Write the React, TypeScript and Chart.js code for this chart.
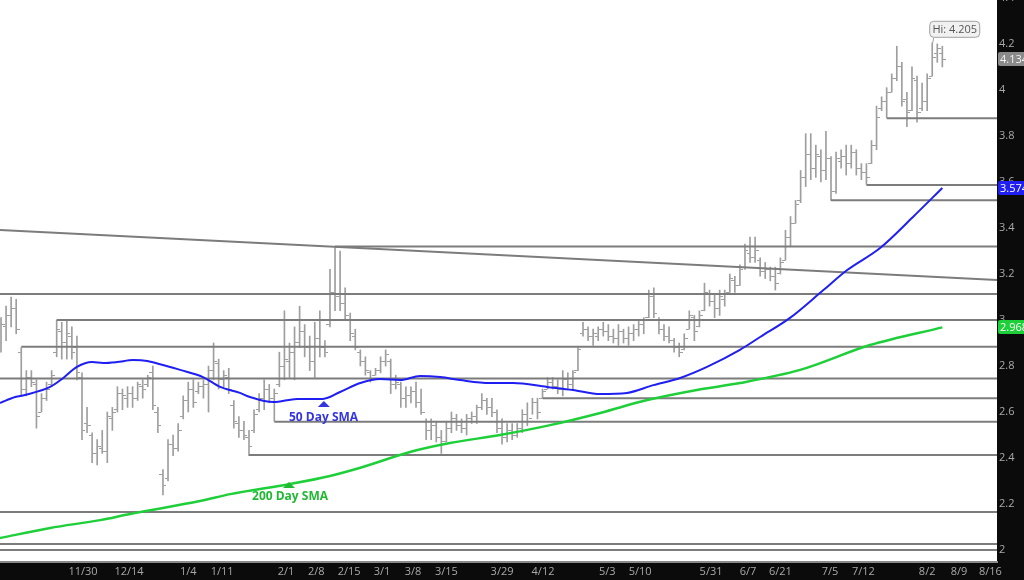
import React, { useEffect, useRef } from "react";
import { Chart, registerables } from "chart.js";
Chart.register(...registerables);

// ---------- data ----------
const highs = [
  3.01, 3.06, 3.1, 3.09, 2.88, 2.78, 2.78, 2.74, 2.68, 2.73,
  2.78, 3.0, 2.99, 3.0, 2.97, 2.93, 2.77, 2.62, 2.51, 2.48,
  2.52, 2.6, 2.62, 2.71, 2.7, 2.71, 2.71, 2.73, 2.74, 2.76,
  2.8, 2.62, 2.35, 2.48, 2.5, 2.55, 2.67, 2.73, 2.74, 2.73,
  2.74, 2.8, 2.9, 2.83, 2.78, 2.79, 2.65, 2.58, 2.56, 2.52,
  2.61, 2.68, 2.74, 2.72, 2.7, 2.86, 3.04, 2.9, 2.97, 3.06,
  2.98, 2.93, 2.99, 3.04, 2.91, 3.22, 3.32, 3.3, 3.14, 3.03,
  2.96, 2.87, 2.84, 2.78, 2.79, 2.84, 2.87, 2.83, 2.76, 2.73,
  2.71, 2.71, 2.73, 2.7, 2.57, 2.57, 2.56, 2.52, 2.56, 2.6,
  2.59, 2.57, 2.59, 2.6, 2.63, 2.68, 2.66, 2.66, 2.61, 2.57,
  2.55, 2.55, 2.55, 2.61, 2.64, 2.66, 2.66, 2.7, 2.75, 2.75,
  2.74, 2.78, 2.77, 2.78, 2.88, 2.99, 2.97, 2.96, 2.97, 2.99,
  2.98, 2.96, 2.98, 2.96, 2.97, 2.98, 3.0, 3.01, 3.13, 3.14,
  3.01, 2.98, 2.97, 2.92, 2.9, 2.94, 3.04, 3.02, 3.04, 3.16,
  3.13, 3.11, 3.13, 3.13, 3.2, 3.19, 3.24, 3.33, 3.36, 3.36,
  3.27, 3.25, 3.23, 3.23, 3.27, 3.39, 3.45, 3.52, 3.65, 3.81,
  3.81, 3.76, 3.74, 3.82, 3.71, 3.73, 3.74, 3.76, 3.76, 3.74,
  3.68, 3.68, 3.78, 3.93, 3.97, 4.01, 4.07, 4.19, 4.12, 3.99,
  4.1, 4.06, 4.03, 4.07, 4.205, 4.2, 4.19,
];
const lows = [
  2.86, 2.91, 2.97, 2.94, 2.67, 2.67, 2.71, 2.53, 2.6, 2.65,
  2.71, 2.84, 2.83, 2.83, 2.83, 2.74, 2.48, 2.51, 2.38, 2.37,
  2.42, 2.38, 2.52, 2.6, 2.61, 2.62, 2.62, 2.65, 2.66, 2.71,
  2.61, 2.51, 2.24, 2.3, 2.41, 2.43, 2.57, 2.6, 2.62, 2.68,
  2.66, 2.6, 2.74, 2.7, 2.71, 2.68, 2.53, 2.49, 2.48, 2.41,
  2.51, 2.6, 2.61, 2.64, 2.56, 2.71, 2.74, 2.75, 2.74, 2.88,
  2.84, 2.78, 2.75, 2.84, 2.84, 2.97, 3.04, 3.04, 3.0, 2.91,
  2.87, 2.8, 2.76, 2.73, 2.76, 2.77, 2.8, 2.68, 2.7, 2.62,
  2.62, 2.64, 2.62, 2.59, 2.48, 2.48, 2.47, 2.42, 2.47, 2.51,
  2.52, 2.51, 2.5, 2.55, 2.55, 2.61, 2.59, 2.58, 2.51, 2.46,
  2.47, 2.48, 2.49, 2.51, 2.54, 2.59, 2.57, 2.66, 2.7, 2.7,
  2.68, 2.67, 2.7, 2.7, 2.78, 2.93, 2.91, 2.89, 2.91, 2.93,
  2.91, 2.9, 2.89, 2.9, 2.89, 2.91, 2.93, 2.94, 3.01, 3.01,
  2.94, 2.91, 2.9, 2.86, 2.84, 2.87, 2.96, 2.91, 2.97, 3.04,
  3.06, 3.01, 3.02, 3.06, 3.12, 3.12, 3.15, 3.22, 3.25, 3.25,
  3.19, 3.18, 3.17, 3.13, 3.2, 3.26, 3.32, 3.42, 3.51, 3.58,
  3.61, 3.62, 3.6, 3.61, 3.52, 3.55, 3.66, 3.63, 3.66, 3.63,
  3.61, 3.59, 3.68, 3.74, 3.91, 3.88, 3.99, 4.04, 3.93, 3.84,
  3.91, 3.86, 3.91, 3.91, 4.06, 4.12, 4.1,
];
const opens = [
  2.9, 2.97, 3.02, 3.05, 2.86, 2.7, 2.75, 2.72, 2.6, 2.66,
  2.72, 2.86, 2.95, 2.9, 2.93, 2.88, 2.75, 2.55, 2.5, 2.42,
  2.44, 2.43, 2.57, 2.61, 2.68, 2.66, 2.68, 2.66, 2.71, 2.72,
  2.77, 2.6, 2.33, 2.31, 2.46, 2.44, 2.58, 2.65, 2.7, 2.69,
  2.71, 2.72, 2.78, 2.81, 2.74, 2.75, 2.63, 2.55, 2.52, 2.49,
  2.52, 2.61, 2.66, 2.7, 2.66, 2.72, 2.8, 2.82, 2.86, 2.9,
  2.95, 2.88, 2.82, 2.92, 2.88, 2.98, 3.12, 3.1, 3.07, 3.0,
  2.93, 2.86, 2.82, 2.77, 2.76, 2.78, 2.82, 2.82, 2.72, 2.72,
  2.66, 2.67, 2.69, 2.64, 2.56, 2.52, 2.54, 2.49, 2.47, 2.53,
  2.57, 2.54, 2.53, 2.57, 2.58, 2.62, 2.65, 2.62, 2.6, 2.53,
  2.49, 2.52, 2.5, 2.53, 2.59, 2.57, 2.64, 2.66, 2.7, 2.73,
  2.71, 2.7, 2.74, 2.72, 2.78, 2.94, 2.96, 2.93, 2.93, 2.96,
  2.95, 2.93, 2.92, 2.95, 2.92, 2.94, 2.96, 2.98, 3.01, 3.1,
  3.0, 2.96, 2.93, 2.91, 2.88, 2.87, 2.96, 3.01, 2.97, 3.04,
  3.11, 3.08, 3.05, 3.09, 3.12, 3.17, 3.15, 3.23, 3.29, 3.27,
  3.26, 3.21, 3.22, 3.19, 3.2, 3.26, 3.36, 3.42, 3.52, 3.62,
  3.72, 3.66, 3.71, 3.65, 3.7, 3.56, 3.69, 3.71, 3.68, 3.73,
  3.66, 3.64, 3.68, 3.76, 3.92, 3.95, 3.99, 4.05, 4.1, 3.96,
  3.91, 4.04, 3.92, 3.95, 4.06, 4.16, 4.16,
];
const closes = [
  2.98, 3.02, 3.05, 2.96, 2.7, 2.75, 2.73, 2.58, 2.66, 2.7,
  2.76, 2.96, 2.9, 2.94, 2.86, 2.77, 2.52, 2.54, 2.42, 2.45,
  2.43, 2.58, 2.6, 2.68, 2.67, 2.68, 2.66, 2.72, 2.7, 2.75,
  2.63, 2.54, 2.28, 2.46, 2.44, 2.52, 2.65, 2.7, 2.64, 2.71,
  2.72, 2.78, 2.82, 2.74, 2.76, 2.7, 2.56, 2.52, 2.5, 2.45,
  2.59, 2.66, 2.7, 2.66, 2.68, 2.8, 2.83, 2.86, 2.9, 2.95,
  2.88, 2.82, 2.92, 2.88, 2.86, 3.12, 3.1, 3.07, 3.02, 2.94,
  2.88, 2.82, 2.78, 2.74, 2.78, 2.82, 2.85, 2.72, 2.73, 2.66,
  2.67, 2.69, 2.64, 2.6, 2.52, 2.54, 2.49, 2.47, 2.53, 2.57,
  2.54, 2.53, 2.57, 2.58, 2.62, 2.65, 2.62, 2.6, 2.53, 2.49,
  2.52, 2.5, 2.53, 2.59, 2.56, 2.64, 2.6, 2.69, 2.73, 2.71,
  2.7, 2.74, 2.72, 2.77, 2.87, 2.96, 2.93, 2.94, 2.96, 2.95,
  2.93, 2.92, 2.95, 2.92, 2.94, 2.96, 2.98, 3.0, 3.1, 3.03,
  2.96, 2.93, 2.91, 2.88, 2.86, 2.92, 3.02, 2.95, 3.02, 3.12,
  3.08, 3.05, 3.1, 3.11, 3.18, 3.15, 3.22, 3.3, 3.27, 3.3,
  3.21, 3.22, 3.19, 3.16, 3.25, 3.36, 3.42, 3.5, 3.62, 3.72,
  3.66, 3.72, 3.65, 3.7, 3.56, 3.7, 3.71, 3.68, 3.73, 3.66,
  3.64, 3.62, 3.76, 3.88, 3.95, 3.99, 4.05, 4.1, 3.95, 3.9,
  4.05, 3.9, 3.95, 4.05, 4.14, 4.18, 4.134,
];

const dateLabels = ["11/30", "12/14", "1/4", "1/11", "2/1", "2/8", "2/15", "3/1", "3/8", "3/15", "3/29", "4/12", "5/3", "5/10", "5/31", "6/7", "6/21", "7/5", "7/12", "8/2", "8/9", "8/16"];
const datePos = [16.2, 25.3, 37.0, 43.7, 56.3, 62.3, 68.8, 75.3, 81.4, 88.0, 99.0, 107.1, 119.8, 126.3, 140.3, 147.6, 154.0, 163.8, 170.4, 183.0, 189.3, 195.5];

const yTicks = [2, 2.2, 2.4, 2.6, 2.8, 3, 3.2, 3.4, 3.6, 3.8, 4, 4.2, 4.4];

const sma50X = [-0.2, 2.8, 4.7, 9.7, 12.3, 15.0, 18.0, 20.2, 22.9, 26.1, 28.9, 32.0, 35.4, 39.9, 43.3, 47.2, 49.2, 53.8, 58.5, 63.6, 67.0, 71.0, 74.9, 78.9, 82.8, 86.8, 90.7, 96.6, 101.2, 107.9, 113.0, 118.4, 123.7, 128.9, 134.2, 139.5, 146.0, 150.0, 155.9, 162.5, 167.2, 173.7, 180.2, 186];
const sma50 = [2.639, 2.665, 2.674, 2.709, 2.748, 2.796, 2.817, 2.813, 2.817, 2.826, 2.822, 2.804, 2.783, 2.752, 2.709, 2.683, 2.665, 2.643, 2.657, 2.657, 2.687, 2.726, 2.743, 2.739, 2.757, 2.752, 2.739, 2.726, 2.726, 2.709, 2.696, 2.678, 2.683, 2.717, 2.748, 2.796, 2.87, 2.926, 3.009, 3.13, 3.217, 3.313, 3.448, 3.574];

const sma200X = [-0.2, 9.7, 19.6, 25.5, 39.3, 45.3, 57.1, 65.0, 71.5, 80.8, 88.7, 98.6, 108.5, 118.4, 127.7, 137.5, 146.0, 157.9, 171.7, 186];
const sma200 = [2.052, 2.096, 2.13, 2.157, 2.213, 2.243, 2.287, 2.322, 2.361, 2.426, 2.465, 2.5, 2.543, 2.596, 2.652, 2.696, 2.726, 2.783, 2.891, 2.968];

// support / resistance levels and the bar index they start from (-1 = from the left edge)
const levelValues = [3.113, 3.0, 2.884, 2.746, 2.66, 2.558, 2.413, 2.165, 2.026, 2.0, 3.319, 3.52, 3.587, 3.877];
const levelStart = [-1, 11, 4, -1, 107, 54, 49, -1, -1, -1, 66, 164, 171, 175];
const trendValues = [3.391, 3.174];

const lastValues = [4.134, 3.574, 2.968];
const lastLabels = ["4.134", "3.574", "2.968"];
const hiIndex = 184;
const hiValue = 4.205;

// ---------- view ----------
const X_MIN = -0.2;
const X_MAX = 196.8;
const Y_MIN = 1.948;
const Y_MAX = 4.391;
const FONT = "'Open Sans', 'Noto Sans', sans-serif";
const TICK_COLOR = "#a9a9a9";
const BAR_COLOR = "#9e9e9e";
const LEVEL_COLOR = "#7c7c7c";
const BLUE = "#1f1ff2";
const GREEN = "#1fcf3a";

function makeTick(left: boolean) {
  const c = document.createElement("canvas");
  c.width = 7;
  c.height = 1;
  const g = c.getContext("2d")!;
  g.fillStyle = BAR_COLOR;
  if (left) g.fillRect(0, 0, 3, 1);
  else g.fillRect(4, 0, 3, 1);
  return c;
}

const zeroPad = (s: any) => {
  s.paddingTop = 0;
  s.paddingBottom = 0;
  s.paddingLeft = 0;
  s.paddingRight = 0;
};

const background = {
  id: "bg",
  beforeDraw(chart: any) {
    const { ctx, chartArea } = chart;
    ctx.save();
    ctx.fillStyle = "#0b0b0b";
    ctx.fillRect(0, 0, chart.width, chart.height);
    ctx.fillStyle = "#ffffff";
    ctx.fillRect(chartArea.left, chartArea.top, chartArea.right - chartArea.left, chartArea.bottom - chartArea.top);
    ctx.restore();
  },
};

const overlay = {
  id: "overlay",
  afterDraw(chart: any) {
    const { ctx, chartArea } = chart;
    const x = chart.scales.x;
    const y = chart.scales.y;
    ctx.save();
    ctx.font = `11px ${FONT}`;
    ctx.textBaseline = "middle";
    ctx.textAlign = "left";
    ctx.fillStyle = TICK_COLOR;
    ctx.fillText("4.4", chartArea.right + 2, y.getPixelForValue(4.4));

    // last-value boxes
    const colors = [["#8a8a8a", "#f2f2f2"], [BLUE, "#ffffff"], [GREEN, "#ffffff"]];
    lastValues.forEach((v, i) => {
      const py = Math.round(y.getPixelForValue(v));
      ctx.fillStyle = colors[i][0];
      ctx.beginPath();
      (ctx as any).roundRect(chartArea.right + 1, py - 7, 40, 14, 2);
      ctx.fill();
      ctx.fillStyle = colors[i][1];
      ctx.fillText(lastLabels[i], chartArea.right + 3, py + 0.5);
    });

    // Hi callout
    const hx = x.getPixelForValue(hiIndex);
    const hy = y.getPixelForValue(hiValue);
    ctx.strokeStyle = "#a0a0a0";
    ctx.lineWidth = 1;
    ctx.beginPath();
    ctx.moveTo(hx + 0.5, hy);
    ctx.lineTo(hx + 1.5, hy - 5);
    ctx.stroke();
    ctx.fillStyle = "#f1f1f1";
    ctx.beginPath();
    (ctx as any).roundRect(hx - 2.5, hy - 21.5, 50, 16, 4);
    ctx.fill();
    ctx.stroke();
    ctx.fillStyle = "#555555";
    ctx.textAlign = "center";
    ctx.fillText("Hi: 4.205", hx + 22.5, hy - 13);

    // SMA labels
    const tri = (ix: number, v: number, color: string) => {
      const px = x.getPixelForValue(ix);
      const py = y.getPixelForValue(v);
      ctx.fillStyle = color;
      ctx.beginPath();
      ctx.moveTo(px, py);
      ctx.lineTo(px - 6, py + 6);
      ctx.lineTo(px + 6, py + 6);
      ctx.closePath();
      ctx.fill();
    };
    tri(63.8, 2.648, "#3434e0");
    tri(56.9, 2.296, "#20b933");
    ctx.font = `bold 12px ${FONT}`;
    ctx.textAlign = "left";
    ctx.fillStyle = "#3434e0";
    ctx.fillText("50 Day SMA", x.getPixelForValue(56.9), y.getPixelForValue(2.576));
    ctx.fillStyle = "#20b933";
    ctx.fillText("200 Day SMA", x.getPixelForValue(49.6), y.getPixelForValue(2.233));
    ctx.restore();
  },
};

export default function App() {
  const ref = useRef<HTMLCanvasElement>(null);
  useEffect(() => {
    const canvas = ref.current!;
    const openImg = makeTick(true);
    const closeImg = makeTick(false);

    const levelSets = levelValues.map((v, i) => ({
      type: "line" as const,
      data: [
        { x: levelStart[i] < 0 ? X_MIN : levelStart[i], y: v },
        { x: X_MAX, y: v },
      ],
      borderColor: LEVEL_COLOR,
      borderWidth: 2,
      pointRadius: 0,
      order: 1,
    }));

    const chart = new Chart(canvas, {
      type: "bar",
      data: {
        datasets: [
          {
            type: "line",
            data: sma50X.map((xv, i) => ({ x: xv, y: sma50[i] })),
            borderColor: BLUE,
            borderWidth: 2,
            pointRadius: 0,
            cubicInterpolationMode: "monotone",
            order: 0,
          },
          {
            type: "line",
            data: sma200X.map((xv, i) => ({ x: xv, y: sma200[i] })),
            borderColor: GREEN,
            borderWidth: 2.5,
            pointRadius: 0,
            cubicInterpolationMode: "monotone",
            order: 0,
          },
          ...levelSets,
          {
            type: "line",
            data: [
              { x: X_MIN, y: trendValues[0] },
              { x: X_MAX, y: trendValues[1] },
            ],
            borderColor: LEVEL_COLOR,
            borderWidth: 2,
            pointRadius: 0,
            order: 1,
          },
          {
            type: "line",
            data: opens.map((v, i) => ({ x: i, y: v })),
            showLine: false,
            pointStyle: openImg,
            pointRadius: 1,
            order: 2,
          },
          {
            type: "line",
            data: closes.map((v, i) => ({ x: i, y: v })),
            showLine: false,
            pointStyle: closeImg,
            pointRadius: 1,
            order: 2,
          },
          {
            type: "bar",
            data: highs.map((h, i) => ({ x: i, y: [lows[i], h] })),
            backgroundColor: BAR_COLOR,
            borderWidth: 0,
            barThickness: 1,
            order: 3,
          },
        ] as any,
      },
      options: {
        animation: false,
        responsive: false,
        events: [],
        layout: { padding: 0, autoPadding: false },
        plugins: { legend: { display: false }, tooltip: { enabled: false } },
        scales: {
          x: {
            type: "linear",
            min: X_MIN,
            max: X_MAX,
            offset: false,
            grid: { display: false, drawTicks: false },
            border: { display: true, color: "#8a8a8a", width: 2 },
            ticks: {
              autoSkip: false,
              maxRotation: 0,
              padding: 3,
              color: TICK_COLOR,
              font: { family: FONT, size: 11 },
              callback: (_v: any, i: number) => dateLabels[i] ?? "",
            },
            afterBuildTicks: (s: any) => {
              s.ticks = datePos.map((v) => ({ value: v }));
            },
            afterFit: (s: any) => {
              s.height = 18;
              zeroPad(s);
            },
          },
          y: {
            position: "right",
            min: Y_MIN,
            max: Y_MAX,
            grid: { display: false, drawTicks: false },
            border: { display: false },
            ticks: {
              padding: 2,
              color: TICK_COLOR,
              font: { family: FONT, size: 11 },
              callback: (v: any) => String(Number(Number(v).toFixed(1))),
            },
            afterBuildTicks: (s: any) => {
              s.ticks = yTicks.filter((t) => t >= Y_MIN && t <= Y_MAX).map((v) => ({ value: v }));
            },
            afterFit: (s: any) => {
              s.width = 27;
              zeroPad(s);
            },
          },
        } as any,
      },
      plugins: [background, overlay],
    });
    return () => chart.destroy();
  }, []);

  return (
    <div style={{ position: "fixed", left: 0, top: 0, width: 1024, height: 580 }}>
      <canvas ref={ref} width={1024} height={580} style={{ display: "block", width: 1024, height: 580 }} />
    </div>
  );
}
